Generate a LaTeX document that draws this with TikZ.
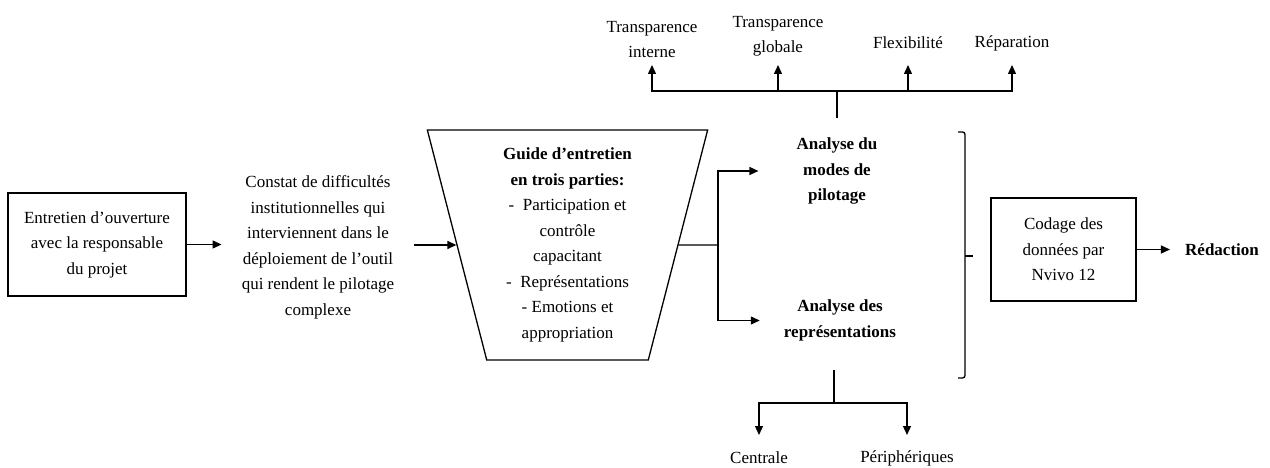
\documentclass[tikz,border=0pt]{standalone}
\usepackage{fontspec}
\setmainfont{Liberation Serif}
\usetikzlibrary{arrows.meta,shapes.geometric,calc}
\begin{document}
\begin{tikzpicture}[x=1pt,y=-1pt,
  txt/.style={font=\fontsize{17}{25.5}\selectfont, align=center, inner sep=0pt},
  btxt/.style={txt, font=\fontsize{17}{25.5}\selectfont\bfseries},
  bx/.style={txt, draw, line width=1.3pt},
  arr/.style={-{Triangle[length=9pt,width=8pt]}, line width=1.3pt},
  ln/.style={line width=1.3pt}]
\useasboundingbox (0,0) rectangle (1270,468);

% left part
\node[bx, minimum width=178pt, minimum height=103pt] (open) at (97,244.5)
  {Entretien d’ouverture\\avec la responsable\\du projet};
\node[txt, inner xsep=20pt] (constat) at (318,247.5)
  {Constat de difficultés\\institutionnelles qui\\interviennent dans le\\déploiement de l’outil\\qui rendent le pilotage\\complexe};
\node[bx, trapezium, trapezium angle=76.3, shape border rotate=180,
      trapezium stretches=true, minimum width=281pt, minimum height=230pt] (guide) at (567.5,245)
  {\textbf{Guide d’entretien}\\\textbf{en trois parties:}\\-\ \ Participation et\\contrôle\\capacitant\\-\ \ Représentations\\-\ Emotions et\\appropriation};

\draw[arr] (open.east) -- (open.east -| constat.west);
\draw[arr] (constat.east |- guide.west) -- (guide.west);

% analyses
\node[btxt] (ana1) at (837,171) {Analyse du\\modes de\\pilotage};
\node[btxt] (ana2) at (840,320.5) {Analyse des\\représentations};
\coordinate (split) at (718,245);
\draw[ln] (guide.east) -- (split);
\draw[arr] (split) |- ([xshift=-38pt]ana1.west);
\draw[arr] (split) |- ([xshift=-24pt]ana2.west);

% top branch
\node[txt] (ti) at (652,39.5) {Transparence\\interne};
\node[txt] (tg) at (778,36.5) {Transparence\\globale};
\node[txt] (fl) at (908,43) {Flexibilité};
\node[txt] (rp) at (1012,43) {Réparation};
\coordinate (t0) at (837,118);
\coordinate (t1) at (837,91);
\coordinate (tipy) at (0,65);
\draw[ln] (t0) -- (t1);
\draw[arr] (t1) -| (ti |- tipy);
\draw[arr] (t1) -| (tg |- tipy);
\draw[arr] (t1) -| (fl |- tipy);
\draw[arr] (t1) -| (rp |- tipy);

% bottom branch
\node[txt] (ce) at (759,458) {Centrale};
\node[txt] (pe) at (907,458) {Périphériques};
\coordinate (b0) at (834,370);
\coordinate (b1) at (834,403);
\coordinate (bipy) at (0,435);
\draw[ln] (b0) -- (b1);
\draw[arr] (b1) -| (ce |- bipy);
\draw[arr] (b1) -| (pe |- bipy);

% brace
\draw[ln, rounded corners=2.5pt] (958,132) -- (965,132) -- (965,378) -- (958,378);
\draw[ln] (965,256) -- (973,256);

% right part
\node[bx, minimum width=145pt, minimum height=103pt] (cod) at (1063.5,249.5)
  {Codage des\\données par\\Nvivo 12};
\node[btxt] (red) at (1222,250) {Rédaction};
\draw[arr] (cod.east) -- (cod.east -| {$(red.west)+(-15pt,0)$});
\end{tikzpicture}
\end{document}
